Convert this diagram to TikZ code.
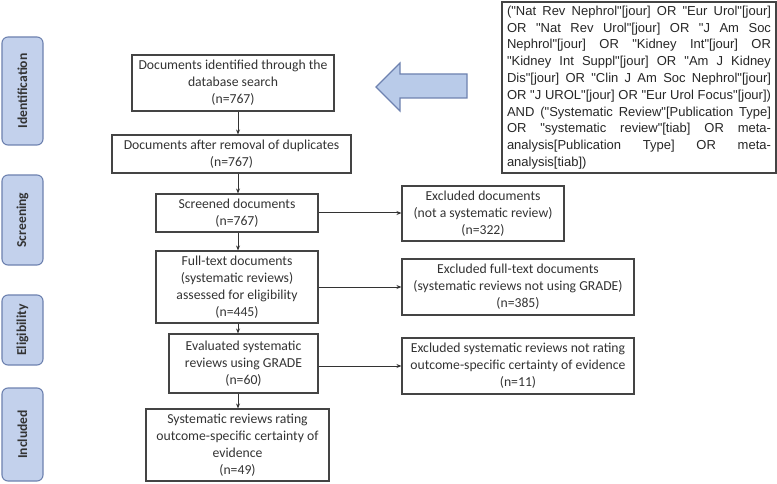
\documentclass[tikz,border=0pt]{standalone}
\usepackage{fontspec}
\setmainfont{Carlito}
\newfontfamily\qfont{Liberation Sans}
\usetikzlibrary{arrows.meta}
\definecolor{ink}{HTML}{333333}
\definecolor{boxline}{HTML}{444444}
\definecolor{sidefill}{HTML}{C3D1EC}
\definecolor{sideline}{HTML}{6E82B0}
\definecolor{arrfill}{HTML}{B9CBE9}
\newcommand\qln[1]{\makebox[264bp][s]{\spaceskip=0pt\xspaceskip=0pt\relax #1}}
\begin{document}
\begin{tikzpicture}[x=1bp,y=-1bp,
 flow/.style={draw=boxline, line width=1.1bp, text=ink, align=center, inner sep=0pt,
   font=\fontsize{13.7bp}{17bp}\selectfont},
 side/.style={draw=sideline, fill=sidefill, line width=1.1bp, rounded corners=6bp,
   rotate=90, text=ink, inner sep=0pt, font=\fontsize{13.6bp}{16bp}\selectfont\bfseries},
 conn/.style={draw=ink, line width=1bp, -{Stealth[length=5bp,width=4bp]}},
 qbox/.style={draw=boxline, line width=1.2bp, text=black!85, align=left, text width=264bp,
   inner xsep=5bp, inner ysep=0pt, minimum height=171bp,
   font={\qfont\fontsize{13bp}{16.8bp}\selectfont}},
 bigarrow/.style={draw=sideline, fill=arrfill, line width=1.1bp, line join=miter},
]
\useasboundingbox (0,0) rectangle (777,484);

% stage labels
\node[side, minimum width=108bp, minimum height=41bp] (s1) at (22.5,91) {Identification};
\node[side, minimum width=90bp, minimum height=41bp] (s2) at (22.5,220) {Screening};
\node[side, minimum width=70bp, minimum height=41bp] (s3) at (22.5,330) {Eligibility};
\node[side, minimum width=93bp, minimum height=41bp] (s4) at (22.5,434.5) {Included};

% main column
\node[flow, minimum width=202bp, minimum height=56bp] (b1) at (233,83)
  {Documents identified through the\\database search\\(n=767)};
\node[flow, minimum width=239bp, minimum height=38bp] (b2) at (231.5,154)
  {Documents after removal of duplicates\\(n=767)};
\node[flow, minimum width=162bp, minimum height=38bp] (b3) at (237,213)
  {Screened documents\\(n=767)};
\node[flow, minimum width=162bp, minimum height=72bp] (b4) at (237,287)
  {Full-text documents\\(systematic reviews)\\assessed for eligibility\\(n=445)};
\node[flow, minimum width=149bp, minimum height=59bp] (b5) at (243.5,363.5)
  {Evaluated systematic\\reviews using GRADE\\(n=60)};
\node[flow, minimum width=183bp, minimum height=72bp] (b6) at (237.5,445)
  {Systematic reviews rating\\outcome-specific certainty of\\evidence\\(n=49)};

% exclusions
\node[flow, minimum width=162bp, minimum height=55bp] (e1) at (483,213.5)
  {Excluded documents\\(not a systematic review)\\(n=322)};
\node[flow, minimum width=232bp, minimum height=56bp] (e2) at (518,287)
  {Excluded full-text documents\\(systematic reviews not using GRADE)\\(n=385)};
\node[flow, minimum width=232bp, minimum height=56bp] (e3) at (518,366)
  {Excluded systematic reviews not rating\\outcome-specific certainty of evidence\\(n=11)};

% search query
\node[qbox] (q) at (639,87.5) {%
\qln{("Nat Rev Nephrol"[jour] OR "Eur Urol"[jour]}\\
\qln{OR "Nat Rev Urol"[jour] OR "J Am Soc}\\
\qln{Nephrol"[jour] OR "Kidney Int"[jour] OR}\\
\qln{"Kidney Int Suppl"[jour] OR "Am J Kidney}\\
\qln{Dis"[jour] OR "Clin J Am Soc Nephrol"[jour]}\\
\qln{OR "J UROL"[jour] OR "Eur Urol Focus"[jour])}\\
\qln{AND ("Systematic Review"[Publication Type]}\\
\qln{OR "systematic review"[tiab] OR meta-}\\
\qln{analysis[Publication Type] OR meta-}\\
analysis[tiab])};

% block arrow
\draw[bigarrow] (376,87) -- (400,63) -- (400,74) -- (467,74) -- (467,98)
  -- (400,98) -- (400,111) -- cycle;

% connectors
\coordinate (spine) at (238,0);
\draw[conn] (b1.south -| spine) -- (b2.north -| spine);
\draw[conn] (b2.south -| spine) -- (b3.north -| spine);
\draw[conn] (b3.south -| spine) -- (b4.north -| spine);
\draw[conn] (b4.south -| spine) -- (b5.north -| spine);
\draw[conn] (b5.south -| spine) -- (b6.north -| spine);
\draw[conn] (b3.east) -- (b3.east -| e1.west);
\draw[conn] (b4.east) -- (b4.east -| e2.west);
\draw[conn] (b5.east |- e3.west) -- (e3.west);
\end{tikzpicture}
\end{document}
